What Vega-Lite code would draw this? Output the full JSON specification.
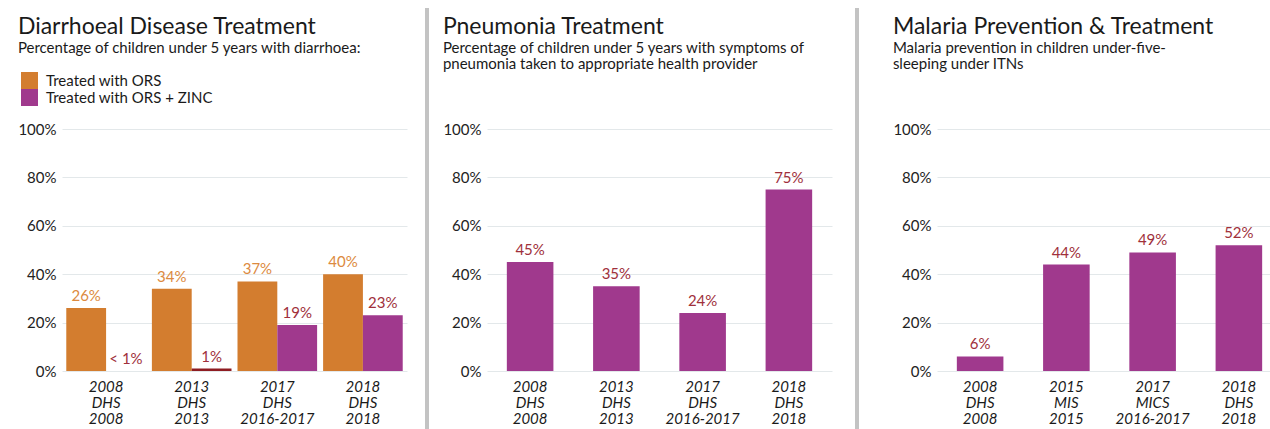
{
  "$schema": "https://vega.github.io/schema/vega-lite/v6.json",
  "background": "white",
  "padding": {"left": 17, "top": 8, "right": 0, "bottom": 0},
  "spacing": 0,
  "config": {
    "font": "Lato",
    "view": {"stroke": null},
    "title": {"anchor": "start", "frame": "bounds", "fontSize": 23, "fontWeight": "normal", "color": "#1a1a1a", "subtitleFontSize": 15, "subtitleColor": "#1a1a1a", "subtitlePadding": 2, "subtitleLineHeight": 16, "font": "Lato", "subtitleFont": "Lato"},
    "axisY": {"grid": true, "gridColor": "#e3e8ea", "domain": false, "ticks": false, "labelFontSize": 15, "labelColor": "#222222", "labelPadding": 6, "title": null, "values": [0, 20, 40, 60, 80, 100], "labelExpr": "datum.value + '%'"},
    "axisX": {"domain": false, "ticks": false, "labelAngle": 0, "labelFontSize": 15, "labelFontStyle": "italic", "labelColor": "#1a1a1a", "labelLineHeight": 16, "labelPadding": 8, "title": null, "labelExpr": "split(datum.label, '|')"}
  },
  "datasets": {
    "diarrhoea": [
      {"survey": "2008|DHS|2008", "series": "Treated with ORS", "value": 26, "label": "26%"},
      {"survey": "2008|DHS|2008", "series": "Treated with ORS + ZINC", "value": 0, "label": "< 1%"},
      {"survey": "2013|DHS|2013", "series": "Treated with ORS", "value": 34, "label": "34%"},
      {"survey": "2013|DHS|2013", "series": "Treated with ORS + ZINC", "value": 1, "label": "1%"},
      {"survey": "2017|DHS|2016-2017", "series": "Treated with ORS", "value": 37, "label": "37%"},
      {"survey": "2017|DHS|2016-2017", "series": "Treated with ORS + ZINC", "value": 19, "label": "19%"},
      {"survey": "2018|DHS|2018", "series": "Treated with ORS", "value": 40, "label": "40%"},
      {"survey": "2018|DHS|2018", "series": "Treated with ORS + ZINC", "value": 23, "label": "23%"}
    ],
    "pneumonia": [
      {"survey": "2008|DHS|2008", "value": 45, "label": "45%"},
      {"survey": "2013|DHS|2013", "value": 35, "label": "35%"},
      {"survey": "2017|DHS|2016-2017", "value": 24, "label": "24%"},
      {"survey": "2018|DHS|2018", "value": 75, "label": "75%"}
    ],
    "malaria": [
      {"survey": "2008|DHS|2008", "value": 6, "label": "6%"},
      {"survey": "2015|MIS|2015", "value": 44, "label": "44%"},
      {"survey": "2017|MICS|2016-2017", "value": 49, "label": "49%"},
      {"survey": "2018|DHS|2018", "value": 52, "label": "52%"}
    ],
    "sep": [{"top": 150, "bottom": -30}],
    "blank": [{"a": 0}]
  },
  "hconcat": [
    {
      "width": 345, "height": 242,
      "title": {"text": "Diarrhoeal Disease Treatment", "subtitle": "Percentage of children under 5 years with diarrhoea:", "offset": 66},
      "data": {"name": "diarrhoea"},
      "encoding": {
        "x": {"field": "survey", "type": "nominal", "sort": null, "scale": {"paddingInner": 0.07, "paddingOuter": 0.05}},
        "xOffset": {"field": "series", "type": "nominal", "sort": null},
        "y": {"field": "value", "type": "quantitative", "scale": {"domain": [0, 100]}}
      },
      "layer": [
        {
          "mark": {"type": "bar"},
          "encoding": {
            "color": {
              "condition": {"test": "datum.value > 0 && datum.value < 2", "value": "#8e1c22"},
              "field": "series", "type": "nominal", "sort": null,
              "scale": {"domain": ["Treated with ORS", "Treated with ORS + ZINC"], "range": ["#d37d2f", "#a0398d"]},
              "legend": {"orient": "none", "legendX": -41, "legendY": -57, "padding": 0, "direction": "vertical", "title": null, "symbolType": "square", "symbolSize": 289, "symbolStrokeWidth": 0, "symbolOpacity": 1, "rowPadding": 0, "labelFontSize": 15, "labelLimit": 400, "labelColor": "#1a1a1a", "labelOffset": 8}
            }
          }
        },
        {
          "mark": {"type": "text", "baseline": "bottom", "dy": -4, "fontSize": 15},
          "encoding": {
            "text": {"field": "label"},
            "color": {"condition": {"test": "datum.series == 'Treated with ORS'", "value": "#dc8a40"}, "value": "#a0303b"}
          }
        }
      ]
    },
    {"width": 18, "height": 242, "data": {"name": "blank"}, "mark": {"type": "rect", "opacity": 0}, "encoding": {}},
    {"width": 4, "height": 242, "data": {"name": "sep"}, "mark": {"type": "rect", "color": "#c3c3c3"},
      "encoding": {"y": {"field": "top", "type": "quantitative", "scale": {"domain": [0, 100]}, "axis": null}, "y2": {"field": "bottom"}}},
    {"width": 13, "height": 242, "data": {"name": "blank"}, "mark": {"type": "rect", "opacity": 0}, "encoding": {}},
    {
      "width": 345, "height": 242,
      "title": {"text": "Pneumonia Treatment", "subtitle": ["Percentage of children under 5 years with symptoms of", "pneumonia taken to appropriate health provider"], "offset": 50},
      "data": {"name": "pneumonia"},
      "encoding": {
        "x": {"field": "survey", "type": "nominal", "sort": null, "scale": {"paddingInner": 0.46, "paddingOuter": 0.23}},
        "y": {"field": "value", "type": "quantitative", "scale": {"domain": [0, 100]}}
      },
      "layer": [
        {"mark": {"type": "bar", "color": "#a0398d"}},
        {"mark": {"type": "text", "baseline": "bottom", "dy": -4, "fontSize": 15, "color": "#a0303b"}, "encoding": {"text": {"field": "label"}}}
      ]
    },
    {"width": 23, "height": 242, "data": {"name": "blank"}, "mark": {"type": "rect", "opacity": 0}, "encoding": {}},
    {"width": 4, "height": 242, "data": {"name": "sep"}, "mark": {"type": "rect", "color": "#c3c3c3"},
      "encoding": {"y": {"field": "top", "type": "quantitative", "scale": {"domain": [0, 100]}, "axis": null}, "y2": {"field": "bottom"}}},
    {"width": 33, "height": 242, "data": {"name": "blank"}, "mark": {"type": "rect", "opacity": 0}, "encoding": {}},
    {
      "width": 345, "height": 242,
      "title": {"text": "Malaria Prevention & Treatment", "subtitle": ["Malaria prevention in children under-five-", "sleeping under ITNs"], "offset": 50},
      "data": {"name": "malaria"},
      "encoding": {
        "x": {"field": "survey", "type": "nominal", "sort": null, "scale": {"paddingInner": 0.46, "paddingOuter": 0.23}},
        "y": {"field": "value", "type": "quantitative", "scale": {"domain": [0, 100]}}
      },
      "layer": [
        {"mark": {"type": "bar", "color": "#a0398d"}},
        {"mark": {"type": "text", "baseline": "bottom", "dy": -4, "fontSize": 15, "color": "#a0303b"}, "encoding": {"text": {"field": "label"}}}
      ]
    }
  ]
}
